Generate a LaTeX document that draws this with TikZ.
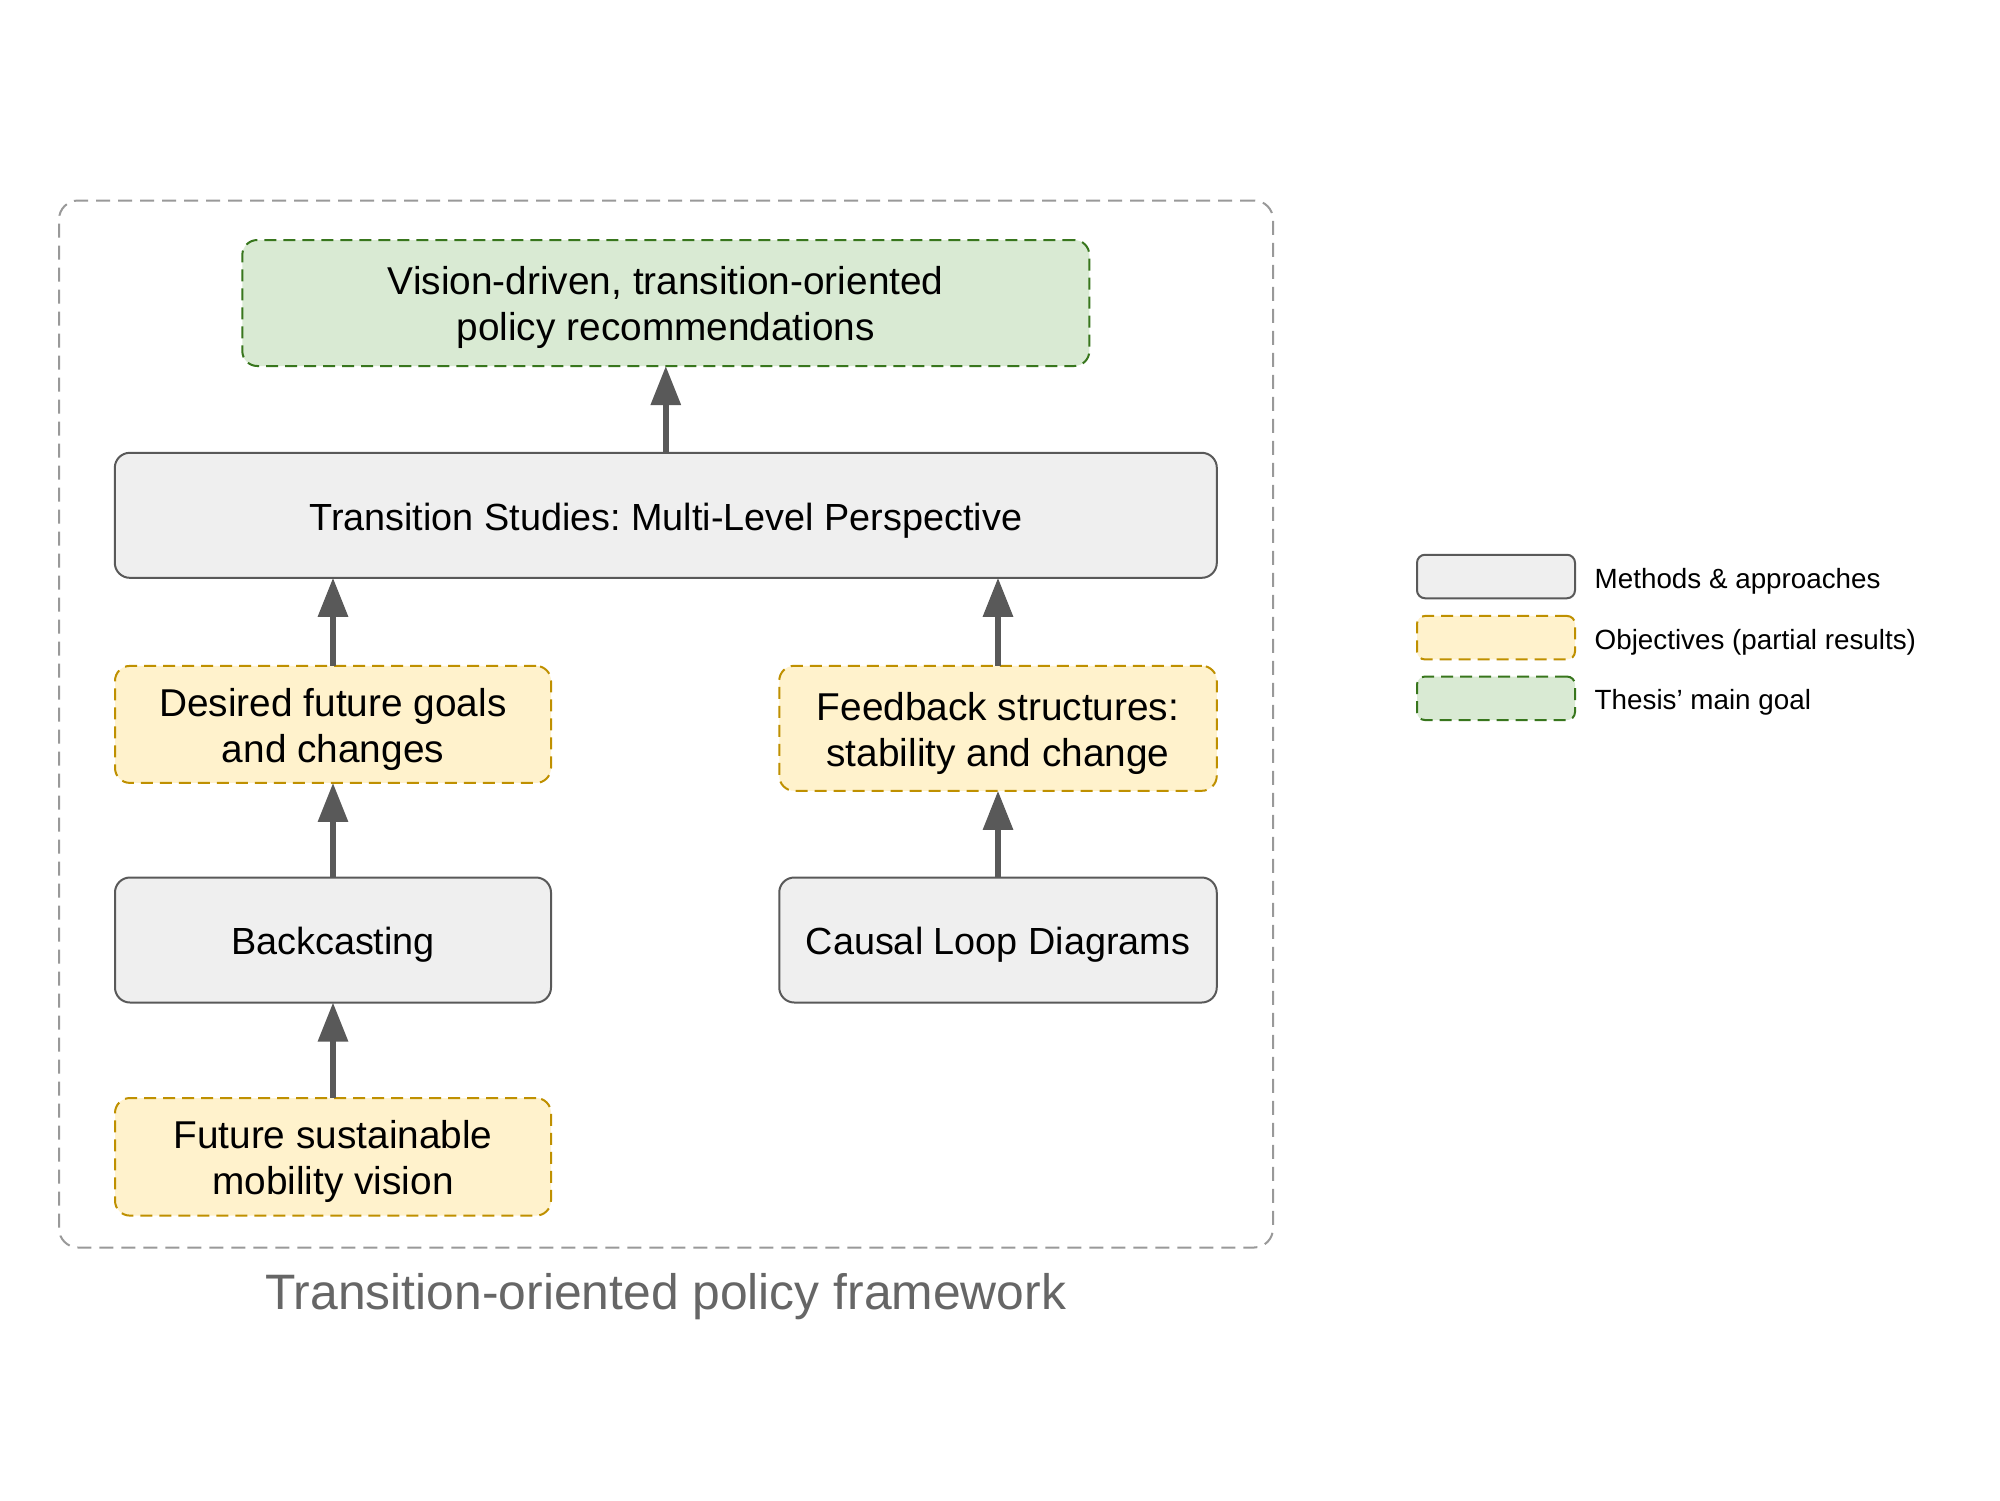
\documentclass[tikz,border=0pt]{standalone}
\usepackage{fontspec}
\setmainfont{Liberation Sans}
\usetikzlibrary{arrows.meta}
\definecolor{methfill}{HTML}{EFEFEF}
\definecolor{methdraw}{HTML}{595959}
\definecolor{objfill}{HTML}{FFF2CC}
\definecolor{objdraw}{HTML}{BF9000}
\definecolor{goalfill}{HTML}{D9EAD3}
\definecolor{goaldraw}{HTML}{38761D}
\definecolor{framec}{HTML}{999999}
\definecolor{arrowc}{HTML}{595959}
\definecolor{captc}{HTML}{666666}
\frenchspacing
\begin{document}
\begin{tikzpicture}[x=1pt,y=-1pt,
  box/.style={rectangle, rounded corners=15pt, inner sep=0pt, outer sep=0pt, line width=2pt},
  method/.style={box, fill=methfill, draw=methdraw},
  objective/.style={box, fill=objfill, draw=objdraw, dash pattern=on 12pt off 7pt},
  goal/.style={box, fill=goalfill, draw=goaldraw, dash pattern=on 12pt off 7pt},
  mtext/.style={inner sep=0pt, align=center, font=\fontsize{37.8}{44}\selectfont},
  otext/.style={inner sep=0pt, align=center, font=\fontsize{38.8}{46}\selectfont},
  flow/.style={draw=arrowc, line width=6pt, -{Triangle[length=39pt,width=29pt]}},
  legbox/.style={rectangle, rounded corners=8pt, inner sep=0pt, outer sep=0pt, line width=2pt, minimum width=158pt, minimum height=43.5pt},
  legtext/.style={anchor=west, inner sep=0pt, font=\fontsize{27.8}{32}\selectfont},
  frame/.style={rectangle, rounded corners=19pt, draw=framec, line width=2pt, dash pattern=on 14pt off 8pt, inner sep=0pt, minimum width=1214pt, minimum height=1047pt},
  caption/.style={inner sep=0pt, text=captc, font=\fontsize{49.8}{58}\selectfont}]
\fill[white] (0,0) rectangle (2000,1500);
\useasboundingbox (0,0) rectangle (2000,1500);

\node[frame] (frm) at (666,724) {};
\node[caption] (cap) at (665.8,1297) {Transition-oriented policy framework};

\node[goal, minimum width=847pt, minimum height=126pt] (goal) at (665.8,303) {};
\node[method, minimum width=1102pt, minimum height=125pt] (mlp) at (665.8,515.3) {};
\node[objective, minimum width=436pt, minimum height=117pt] (des) at (333,724.4) {};
\node[objective, minimum width=437.5pt, minimum height=125pt] (feed) at (998,728.3) {};
\node[method, minimum width=436pt, minimum height=125pt] (back) at (333,940) {};
\node[method, minimum width=437.5pt, minimum height=125pt] (cld) at (998,940) {};
\node[objective, minimum width=436pt, minimum height=117.6pt] (fut) at (333,1156.8) {};

\node[otext] (goal-t) at ([yshift=-4.5pt]goal.center) {Vision-driven, transition-oriented\\policy recommendations};
\node[mtext] (mlp-t) at ([yshift=-5pt]mlp.center) {Transition Studies: Multi-Level Perspective};
\node[otext] (des-t) at ([yshift=-5pt]des.center) {Desired future goals\\and changes};
\node[otext] (feed-t) at ([yshift=-5pt]feed.center) {Feedback structures:\\stability and change};
\node[mtext] (back-t) at ([yshift=-5pt]back.center) {Backcasting};
\node[mtext] (cld-t) at ([yshift=-5pt]cld.center) {Causal Loop Diagrams};
\node[otext] (fut-t) at ([yshift=-5pt]fut.center) {Future sustainable\\mobility vision};

\draw[flow] (mlp.north) -- (goal.south);
\draw[flow] (des.north) -- (des.north |- mlp.south);
\draw[flow] (feed.north) -- (feed.north |- mlp.south);
\draw[flow] (back.north) -- (des.south);
\draw[flow] (cld.north) -- (feed.south);
\draw[flow] (fut.north) -- (back.south);

\node[legbox, fill=methfill, draw=methdraw] (l1) at (1496,576.5) {};
\node[legbox, fill=objfill, draw=objdraw, dash pattern=on 12pt off 7pt] (l2) at (1496,637.7) {};
\node[legbox, fill=goalfill, draw=goaldraw, dash pattern=on 12pt off 7pt] (l3) at (1496,698.3) {};
\node[legtext] (t1) at ([xshift=19.5pt,yshift=-4.5pt]l1.east) {Methods \& approaches};
\node[legtext] (t2) at ([xshift=19.5pt,yshift=-4.5pt]l2.east) {Objectives (partial results)};
\node[legtext] (t3) at ([xshift=19.5pt,yshift=-4.5pt]l3.east) {Thesis’ main goal};
\end{tikzpicture}
\end{document}
